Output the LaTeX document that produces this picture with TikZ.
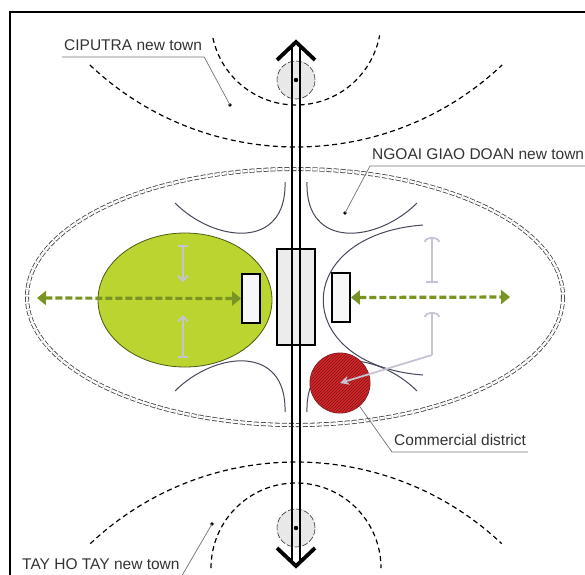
\documentclass[tikz,border=0pt]{standalone}
\usepackage{fontspec}
\setmainfont{Liberation Sans}
\usetikzlibrary{arrows.meta,patterns,positioning,shapes.geometric}

\definecolor{verdechiaro}{HTML}{BCD42F}
\definecolor{verdescuro}{HTML}{7A9424}
\definecolor{rosso}{HTML}{D8262A}
\definecolor{grigiochiaro}{HTML}{C4C5D2}
\definecolor{testo}{HTML}{333333}
\definecolor{curvacol}{HTML}{45485A}

\tikzset{
  arco/.style={line width=1.2pt, dash pattern=on 5pt off 3.5pt},
  limite/.style={draw=black!75, line width=0.8pt, double=white, double distance=2.4pt, dash pattern=on 5pt off 2pt},
  curva/.style={draw=curvacol, line width=1pt},
  etichetta/.style={font=\fontsize{15.5}{18}\selectfont, text=testo, inner sep=2pt, text depth=4pt, anchor=south west},
  guida/.style={draw=black!55, line width=0.7pt},
  blocco/.style={draw=black, line width=1.8pt, fill=gray!6, minimum width=18pt, minimum height=49pt, inner sep=0pt},
  freccia verde/.style={draw=verdescuro, line width=3.2pt, dash pattern=on 7pt off 3pt,
    {Triangle[length=9pt,width=14pt]}-{Triangle[length=9pt,width=14pt]}},
  freccia grigia/.style={draw=grigiochiaro, line width=1.8pt},
  nodino/.style={circle, draw=black!80, fill=gray!18, line width=0.6pt, dash pattern=on 6pt off 2pt, minimum size=38pt, inner sep=0pt}
}

\begin{document}
\begin{tikzpicture}[x=1pt,y=-1pt]

    \useasboundingbox (0,0) rectangle (585,574);

    % 1. Cornice
    \draw[line width=1.2pt] (10,12) rectangle (610,610);

    % 2. Archi tratteggiati delle new town nord e sud
    \draw[arco] (296,20) ++(167.8:85) arc[start angle=167.8, end angle=10.4, radius=85];
    \draw[arco] (296,-153) ++(133.4:300) arc[start angle=133.4, end angle=46.6, radius=300];
    \draw[arco] (296,762) ++(226.7:300) arc[start angle=226.7, end angle=313.3, radius=300];
    \draw[arco] (296,568) ++(180:85) arc[start angle=180, end angle=360, radius=85];

    % 3. Limite ellittico (linea doppia tratteggiata)
    \draw[limite] (295,297) ellipse [x radius=268, y radius=128];

    % 4. Curve interne
    \draw[curva] (175,203) .. controls (215,243) and (287,250) .. (285,182);
    \draw[curva] (417,203) .. controls (377,243) and (305,250) .. (307,182);
    \draw[curva] (175,391) .. controls (215,351) and (287,344) .. (285,412);
    \draw[curva] (417,391) .. controls (377,351) and (305,344) .. (307,412);
    \draw[curva] (423,225) .. controls (290,235) and (290,365) .. (423,375);

    % 5. Ellisse verde e distretto commerciale
    \node[ellipse, draw=verdescuro!60!black, fill=verdechiaro, line width=0.8pt,
          minimum width=174pt, minimum height=134pt, inner sep=0pt] (verde) at (185,300) {};
    \node[circle, draw=rosso!60!black, fill=rosso, line width=0.8pt,
          minimum size=60pt, inner sep=0pt] (comm) at (340,383) {};
    \fill[pattern=north east lines, pattern color=rosso!55!black] (340,383) circle[radius=29];

    % 6. Blocchi e asse centrale
    \node[blocco, minimum width=38pt, minimum height=96pt, line width=1.5pt, fill=gray!15] (centro) at (296,297) {};
    \node[blocco] (bloccoS) at (251,298.5) {};
    \node[blocco] (bloccoD) at (341,297.5) {};
    \node[nodino] (nodoN) at (296,80) {};
    \node[nodino] (nodoS) at (296,528) {};
    \fill (nodoN) circle[radius=2.2];
    \fill (nodoS) circle[radius=2.2];
    \draw[line width=1.5pt] (292,46) -- (292,563);
    \draw[line width=1.5pt] (300,46) -- (300,563);
    \draw[line width=3.8pt, line join=miter] (277,60) -- (296,42) -- (315,60);
    \draw[line width=3.8pt, line join=miter] (277,548) -- (296,566) -- (315,548);

    % 7. Frecce verdi
    \coordinate (estS) at (37,298);
    \coordinate (estD) at (510,297);
    \draw[freccia verde] (estS) -- (bloccoS.west);
    \draw[freccia verde] (bloccoD.east) -- (estD);

    % 8. Frecce grigie
    \draw[freccia grigia, {Bar[width=10pt]}-{Straight Barb[length=5pt,width=10pt]}] (183,245) -- (183,282);
    \draw[freccia grigia, {Straight Barb[length=5pt,width=10pt]}-{Bar[width=10pt]}] (183,315) -- (183,358);
    \draw[freccia grigia, {Bar[width=12pt]}-{Arc Barb[length=5pt,width=16pt]}] (432,283) -- (432,237);
    \draw[freccia grigia, -{Arc Barb[length=5pt,width=16pt]}] (432,355) -- (432,312);
    \draw[freccia grigia, -{Stealth[length=9pt,width=9pt]}] (432,355) -- (comm.center);

    % 9. Etichette
    \node[etichetta] (cip) at (62,57) {CIPUTRA new town};
    \node[etichetta] (ngo) at (370,166) {NGOAI GIAO DOAN new town};
    \node[etichetta] (tay) at (20,576) {TAY HO TAY new town};
    \node[etichetta] (cd) at (392,452) {Commercial district};
    \coordinate (cipP) at (230,105);
    \coordinate (ngoP) at (345,213);
    \coordinate (tayP) at (212,524);
    \fill (cipP) circle[radius=1.8];
    \fill (ngoP) circle[radius=1.8];
    \fill (tayP) circle[radius=1.8];
    \draw[guida] (cipP) -- (cip.south east) -- (cip.south west);
    \draw[guida] (ngoP) -- (ngo.south west) -- (ngo.south east);
    \draw[guida] (tayP) -- (tay.south east) -- (tay.south west);
    \draw[guida] (comm.-50) -- (cd.south west) -- (cd.south east);

\end{tikzpicture}
\end{document}
